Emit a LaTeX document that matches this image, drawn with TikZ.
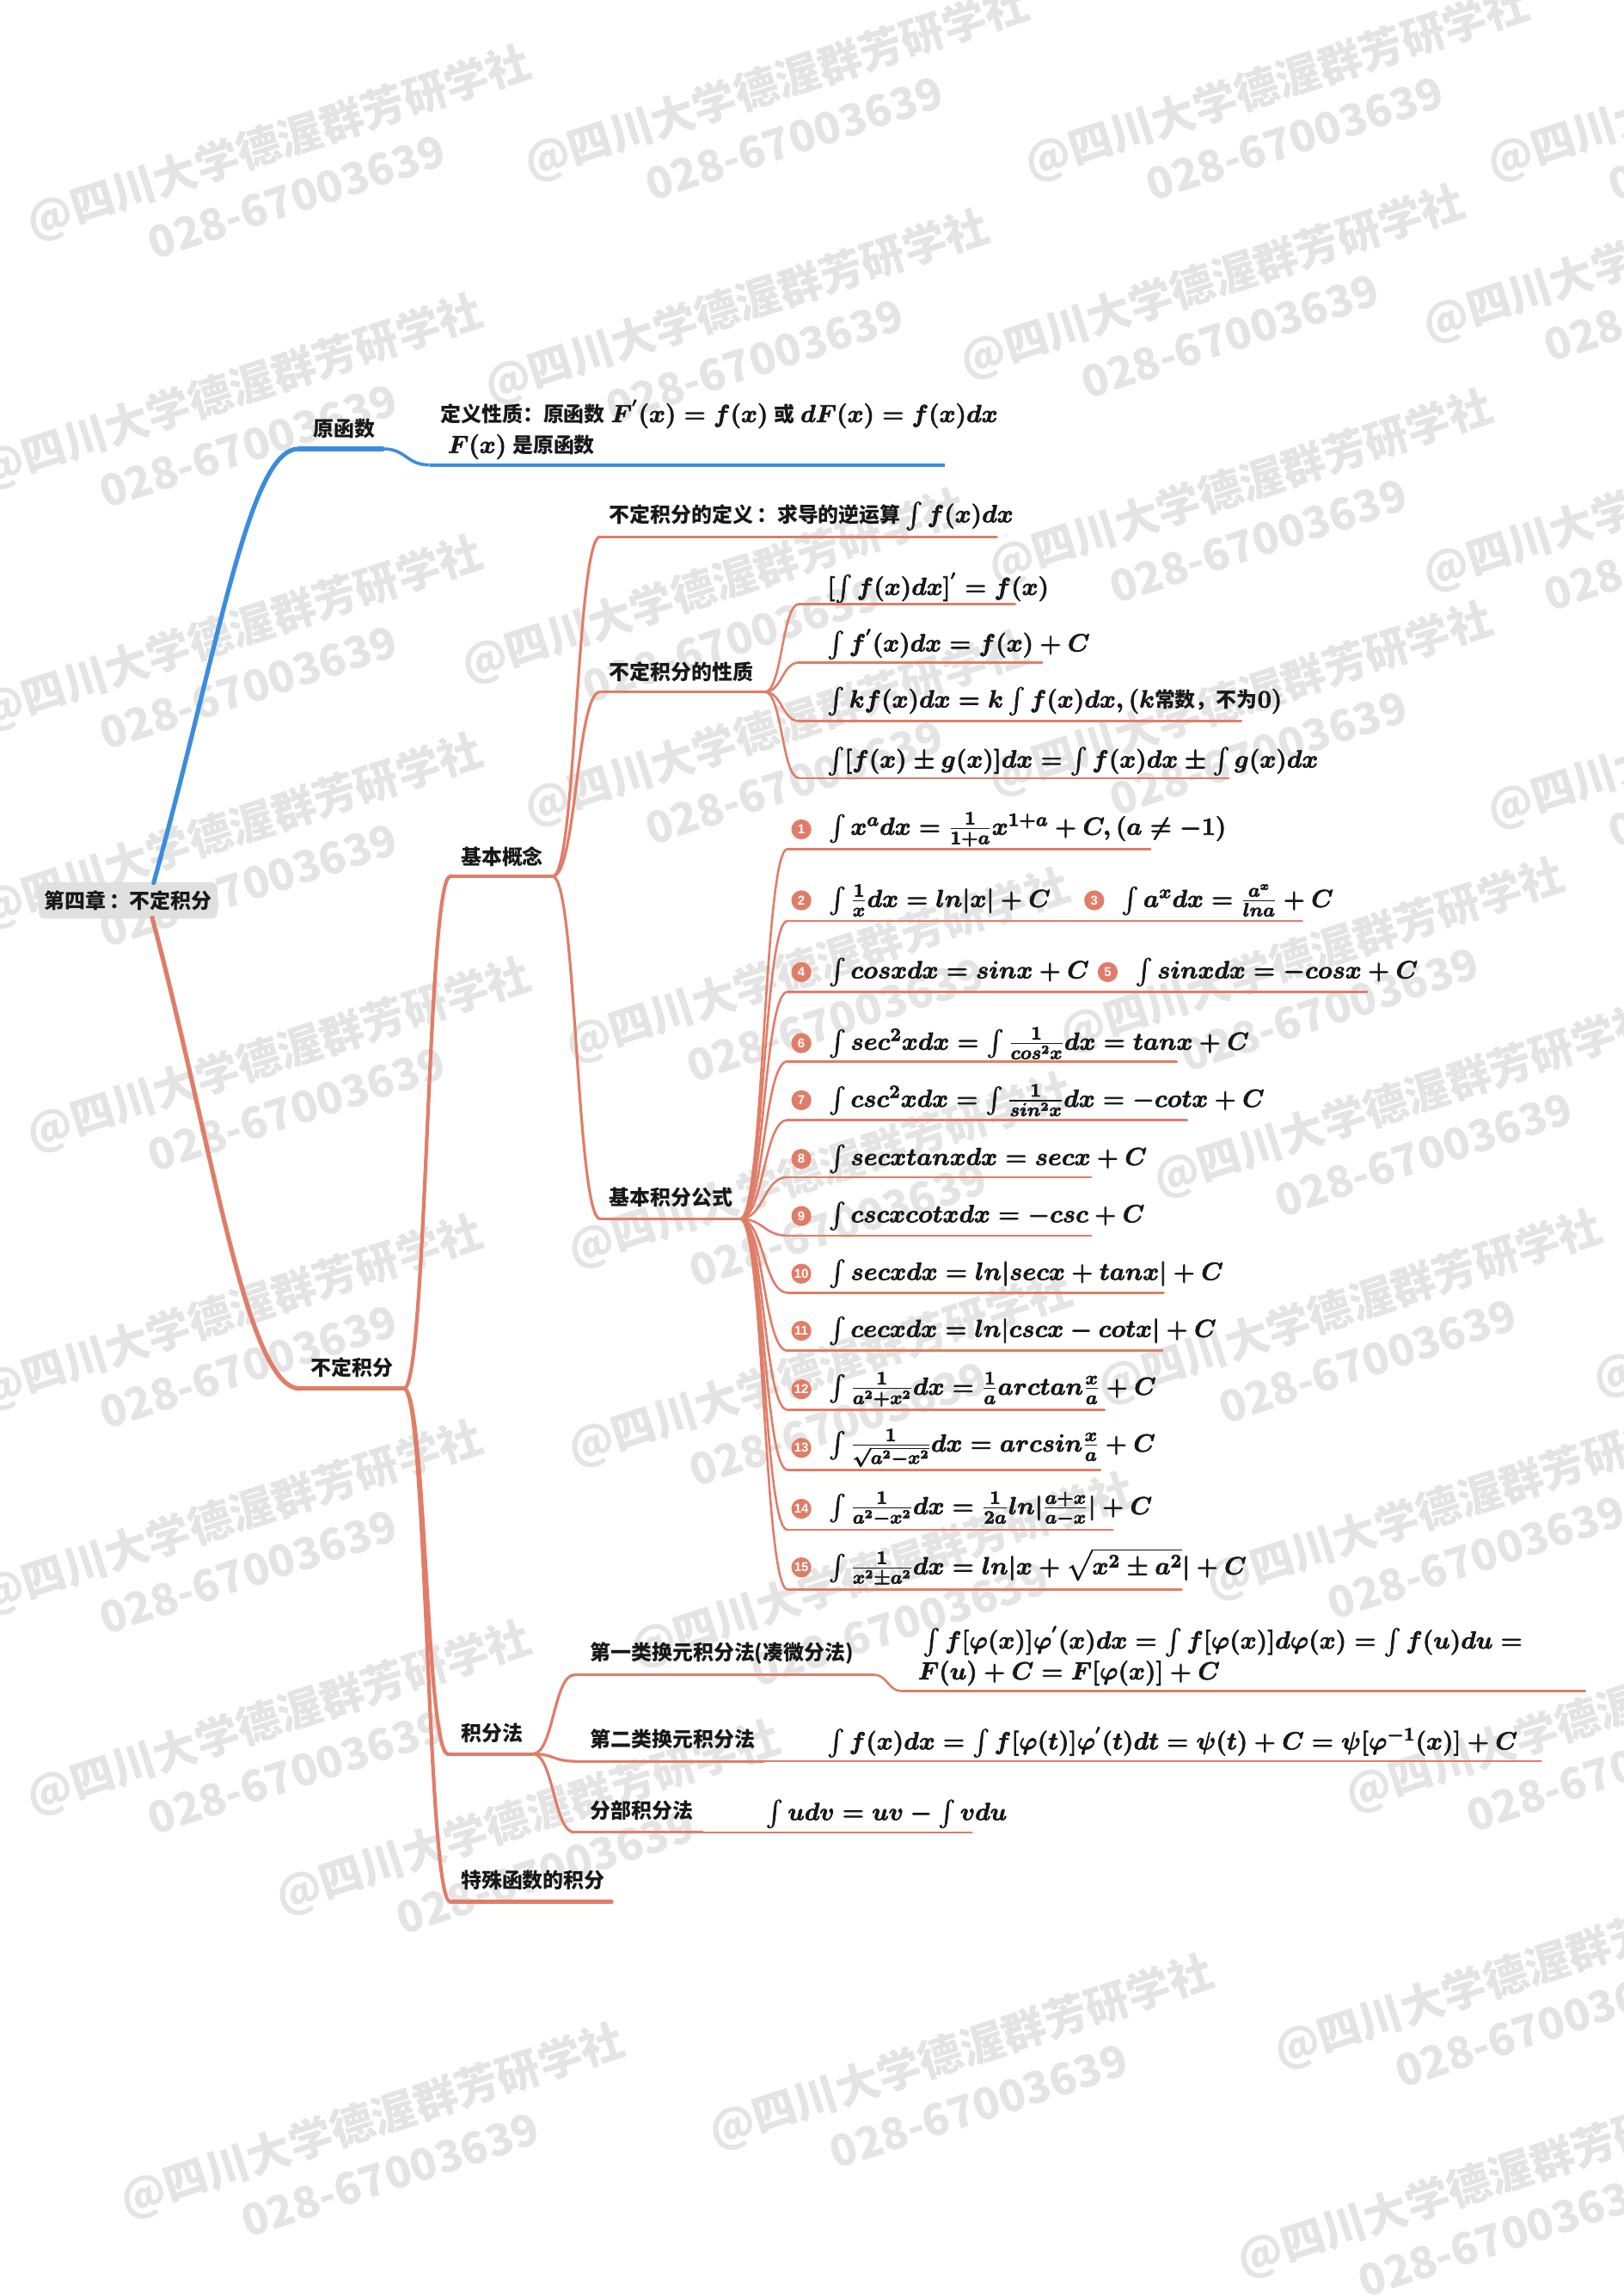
\documentclass[tikz,border=0pt]{standalone}
\usepackage{amsmath}
\usepackage{amssymb}
\usepackage{fontspec}
\newfontfamily\cjk{Noto Sans CJK SC}
\newfontfamily\numfont{Liberation Sans}
\usetikzlibrary{calc}
\definecolor{sal}{RGB}{224,125,104}
\definecolor{blu}{RGB}{60,140,222}
\definecolor{txt}{RGB}{24,24,24}
\definecolor{wmc}{RGB}{228,228,228}
\definecolor{rootbg}{RGB}{224,224,224}
\newcommand{\heavyon}{\special{pdf:literal direct 2 Tr 0.35 w}}
\newcommand{\heavyoff}{\special{pdf:literal direct 0 Tr 0.4 w}}
\newcommand{\zh}[1]{{\heavyoff\fontsize{12}{14}\selectfont #1\heavyon}}
\tikzset{
    lab/.style={inner sep=0pt, anchor=west, text=txt,
        font=\cjk\bfseries\fontsize{12}{14}\selectfont},
    fml/.style={inner sep=0pt, anchor=west, text=txt, align=left,
        font=\cjk\bfseries\fontsize{15}{18}\selectfont\boldmath,
        execute at begin node=\heavyon, execute at end node=\heavyoff},
    num/.style={circle, fill=sal, text=white, inner sep=0pt,
        minimum size=4.1mm, font=\numfont\bfseries\fontsize{7.5}{7.5}\selectfont},
    wm/.style={text=wmc, rotate=18, align=center, inner sep=0pt,
        font=\cjk\bfseries\fontsize{25.5}{34}\selectfont}
}
\tikzset{
    branch/.style={to path={.. controls
        ($(\tikztostart)!.5!(\tikztotarget|-\tikztostart)$) and
        ($(\tikztotarget)!.5!(\tikztostart|-\tikztotarget)$) .. (\tikztotarget)}}
}
\tikzset{
    lv1/.style={line width=2.6pt, line cap=round},
    lv2/.style={sal, line width=2.1pt, line cap=round},
    lv3/.style={sal, line width=1.6pt, line cap=round},
    lv4/.style={sal, line width=1.3pt, line cap=round}
}
\pgfdeclarelayer{background}
\pgfsetlayers{background,main}

\begin{document}
\begin{tikzpicture}[x=0.3mm,y=-0.3mm]
	\useasboundingbox (0,0) rectangle (1109,1568.3);
	\begin{pgfonlayer}{background}
		\fill[white] (0,0) rectangle (1109,1568.3);
		\foreach \x/\y [count=\i] in {28/160,368/120,710/120,1026/120,
			-5/330,341/272,666/255,982/230,-5/495,325/463,685/395,982/400,
			-5/630,368/560,685/540,1026/562,28/783,396/722,734/715,1098/950,
			398/862,798/814,-5/959,398/998,760/955,-5/1099,440/1135,834/1089,
			28/1236,198/1304,929/1234,92/1511,494/1464,880/1409,855/1552}
			\node[wm] (wm\i) at (\x+168,\y-46)
				{@四川大学德渥群芳研学社\\028-67003639};
	\end{pgfonlayer}

	% root
	\node[rectangle, rounded corners=1.2mm, fill=rootbg, minimum width=36.6mm,
		minimum height=7.5mm, inner sep=0pt, text=txt,
		font=\cjk\bfseries\fontsize{12}{14}\selectfont] (root) at (87.5,615)
		{第四章\,：不定积分};
	\coordinate (rt-up) at (105,603);
	\coordinate (rt-dn) at (104,627);

	% 原函数
	\coordinate (yhs-s) at (204,306.6);
	\coordinate (yhs-e) at (261.7,306.6);
	\node[lab] (yhs) at (214,292.6) {原函数};
	\coordinate (yhsf-s) at (293.5,317.6);
	\coordinate (yhsf-e) at (645.7,317.6);
	\node[fml] (yhsf) at (300.7,293.3) {\zh{定义性质：原函数}
		$F^{'}(x)=f(x)$ \zh{或} $dF(x)=f(x)dx$\\
		\hspace{1.5mm}$F(x)$ \zh{是原函数}};

	\draw[blu, lv1] (rt-up) .. controls (150,440) and (170,306.6) .. (yhs-s);
	\draw[blu, line width=2.8pt] (yhs-s) -- (yhs-e);
	\draw[blu, line width=1.8pt] (yhs-e) edge[branch] (yhsf-s);
	\draw[blu, line width=1.8pt] (yhsf-s) -- (yhsf-e);

	% 不定积分
	\coordinate (bdjf-s) at (205,948.5);
	\coordinate (bdjf-e) at (276,948.5);
	\node[lab] (bdjf) at (212,934) {不定积分};
	\draw[sal, lv1] (rt-dn) .. controls (145,780) and (168,948.5) .. (bdjf-s);
	\draw[sal, lv1] (bdjf-s) -- (bdjf-e);

	\coordinate (jbgn-s) at (307.6,598.6);
	\coordinate (jbgn-e) at (377.6,598.6);
	\node[lab] (jbgn) at (314.7,585) {基本概念};
	\coordinate (jff-s) at (306,1198);
	\coordinate (jff-e) at (364,1198);
	\node[lab] (jff) at (314.7,1184) {积分法};
	\coordinate (tshs-s) at (307.6,1299);
	\coordinate (tshs-e) at (418,1299);
	\node[lab] (tshs) at (314.7,1284) {特殊函数的积分};

	\draw[lv2] (bdjf-e) edge[branch] (jbgn-s) edge[branch] (jff-s)
		edge[branch] (tshs-s);
	\draw[lv2] (jbgn-s) -- (jbgn-e);
	\draw[lv2] (jff-s) -- (jff-e);
	\draw[lv2] (tshs-s) -- (tshs-e);

	% 基本概念
	\coordinate (dy-s) at (410,366.6);
	\coordinate (dy-e) at (681,366.6);
	\node[lab] (dy) at (416,352.5) {不定积分的定义\,：求导的逆运算
		{\fontsize{15}{18}\selectfont\boldmath\heavyon$\int f(x)dx$\heavyoff}};
	\coordinate (xz-s) at (410,472.6);
	\coordinate (xz-e) at (522.6,472.6);
	\node[lab] (xz) at (416,459) {不定积分的性质};
	\coordinate (gs-s) at (410,832.6);
	\coordinate (gs-e) at (505.6,832.6);
	\node[lab] (gs) at (416,818) {基本积分公式};

	\draw[lv3] (jbgn-e) edge[branch] (dy-s) edge[branch] (xz-s)
		edge[branch] (gs-s);
	\draw[lv3] (dy-s) -- (dy-e);
	\draw[lv3] (xz-s) -- (xz-e);
	\draw[lv3] (gs-s) -- (gs-e);

	% 性质
	\node[fml] (xz1) at (565,401.5) {$[\int f(x)dx]^{'}=f(x)$};
	\node[fml] (xz2) at (565,440) {$\int f^{'}(x)dx=f(x)+C$};
	\node[fml] (xz3) at (565,479)
		{$\int kf(x)dx=k\int f(x)dx,(k$\zh{常数，不为}$0)$};
	\node[fml] (xz4) at (565,520)
		{$\int[f(x)\pm g(x)]dx=\int f(x)dx\pm\int g(x)dx$};
	\foreach \n/\y/\e in {1/412.5/693.5,2/452.5/712,3/492.5/848,4/531.5/839.5}{
		\coordinate (xz\n-s) at (546,\y);
		\coordinate (xz\n-e) at (\e,\y);
		\draw[lv4] (xz-e) edge[branch] (xz\n-s);
		\draw[lv4] (xz\n-s) -- (xz\n-e);
	}

	% 基本积分公式
	\node[num] (n1) at (547.5,566.5) {1};
	\node[fml] (g1) at (566,566.5) {$\int x^adx=\frac{1}{1+a}x^{1+a}+C,(a\neq-1)$};
	\node[num] (n2) at (547.5,615) {2};
	\node[fml] (g2) at (566,615) {$\int\frac{1}{x}dx=ln|x|+C$};
	\node[num] (n3) at (747.6,615) {3};
	\node[fml] (g3) at (766,615) {$\int a^xdx=\frac{a^x}{lna}+C$};
	\node[num] (n4) at (547.5,664) {4};
	\node[fml] (g4) at (566,664) {$\int cosxdx=sinx+C$};
	\node[num] (n5) at (756.8,664) {5};
	\node[fml] (g5) at (775.5,664) {$\int sinxdx=-cosx+C$};
	\node[num] (n6) at (547.5,712.5) {6};
	\node[fml] (g6) at (566,712.5) {$\int sec^2xdx=\int\frac{1}{cos^2x}dx=tanx+C$};
	\node[num] (n7) at (547.5,751.5) {7};
	\node[fml] (g7) at (566,751.5) {$\int csc^2xdx=\int\frac{1}{sin^2x}dx=-cotx+C$};
	\node[num] (n8) at (547.5,791.6) {8};
	\node[fml] (g8) at (566,791.6) {$\int secxtanxdx=secx+C$};
	\node[num] (n9) at (547.5,830.6) {9};
	\node[fml] (g9) at (566,830.6) {$\int cscxcotxdx=-csc+C$};
	\node[num] (n10) at (547.5,870) {10};
	\node[fml] (g10) at (566,870) {$\int secxdx=ln|secx+tanx|+C$};
	\node[num] (n11) at (547.5,909) {11};
	\node[fml] (g11) at (566,909) {$\int cecxdx=ln|cscx-cotx|+C$};
	\node[num] (n12) at (547.5,949) {12};
	\node[fml] (g12) at (566,949) {$\int\frac{1}{a^2+x^2}dx=\frac{1}{a}arctan\frac{x}{a}+C$};
	\node[num] (n13) at (547.5,989) {13};
	\node[fml] (g13) at (566,989) {$\int\frac{1}{\sqrt{a^2-x^2}}dx=arcsin\frac{x}{a}+C$};
	\node[num] (n14) at (547.5,1030.6) {14};
	\node[fml] (g14) at (566,1030.6)
		{$\int\frac{1}{a^2-x^2}dx=\frac{1}{2a}ln|\frac{a+x}{a-x}|+C$};
	\node[num] (n15) at (547.5,1070.6) {15};
	\node[fml] (g15) at (566,1070.6)
		{$\int\frac{1}{x^2\pm a^2}dx=ln|x+\sqrt{x^2\pm a^2}|+C$};
	\foreach \n/\y/\e in {1/580/786,2/629/889.7,3/677.5/934,4/725/804,
		5/765/811,6/804/745.5,7/844/745.5,8/883/795,9/922.6/794.2,
		10/963/754.6,11/1004/751.8,12/1045/760.3,13/1085.6/807.3}{
		\coordinate (gs\n-s) at (538,\y);
		\coordinate (gs\n-e) at (\e,\y);
		\draw[lv4] (gs-e) edge[branch] (gs\n-s);
		\draw[lv4] (gs\n-s) -- (gs\n-e);
	}

	% 积分法
	\coordinate (hy1-s) at (392.5,1144);
	\coordinate (hy1-e) at (597,1144);
	\node[lab] (hy1) at (403,1129) {第一类换元积分法(凑微分法)};
	\coordinate (hy1f-s) at (616,1155);
	\coordinate (hy1f-e) at (1083,1155);
	\node[fml] (hy1f) at (627,1131)
		{\hspace{1mm}$\int f[\varphi(x)]\varphi^{'}(x)dx=\int f[\varphi(x)]d\varphi(x)=\int f(u)du=$\\
		$F(u)+C=F[\varphi(x)]+C$};
	\coordinate (hy2-s) at (392.5,1203);
	\coordinate (hy2-e) at (522,1203);
	\node[lab] (hy2) at (403,1188) {第二类换元积分法};
	\coordinate (hy2f-e) at (1053,1203);
	\node[fml] (hy2f) at (565,1190)
		{$\int f(x)dx=\int f[\varphi(t)]\varphi^{'}(t)dt=\psi(t)+C=\psi[\varphi^{-1}(x)]+C$};
	\coordinate (fb-s) at (392.5,1251.6);
	\coordinate (fb-e) at (480,1251.6);
	\node[lab] (fb) at (403,1236.6) {分部积分法};
	\coordinate (fbf-e) at (664,1251.6);
	\node[fml] (fbf) at (523,1239) {$\int udv=uv-\int vdu$};

	\draw[lv3] (jff-e) edge[branch] (hy1-s) edge[branch] (hy2-s)
		edge[branch] (fb-s);
	\draw[lv3] (hy1-s) -- (hy1-e);
	\draw[lv4] (hy1-e) edge[branch] (hy1f-s);
	\draw[lv4] (hy1f-s) -- (hy1f-e);
	\draw[lv3] (hy2-s) -- (hy2-e);
	\draw[lv4] (hy2-e) -- (hy2f-e);
	\draw[lv3] (fb-s) -- (fb-e);
	\draw[lv4] (fb-e) -- (fbf-e);
\end{tikzpicture}
\end{document}
